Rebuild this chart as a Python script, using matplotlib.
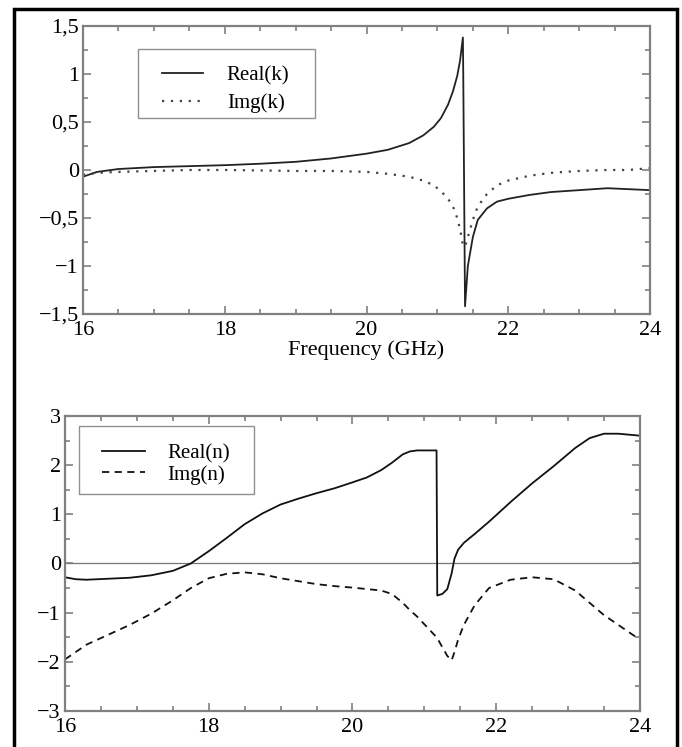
import matplotlib
matplotlib.use("Agg")
import matplotlib.pyplot as plt
from matplotlib.ticker import MultipleLocator, FuncFormatter
from matplotlib.patches import Rectangle
import numpy as np

plt.rcParams['font.family'] = ['Liberation Serif', 'DejaVu Serif']

# k (top panel)
fk = [16.0, 16.2, 16.5, 17.0, 17.5, 18.0, 18.5, 19.0, 19.5, 20.0, 20.3, 20.6,
      20.8, 20.95, 21.05, 21.15, 21.22, 21.28, 21.32, 21.36, 21.365, 21.39, 21.43,
      21.5, 21.57, 21.7, 21.84, 22.0, 22.3, 22.6, 23.0, 23.4, 23.7, 24.0]
real_k = [-0.07, -0.02, 0.01, 0.03, 0.04, 0.05, 0.065, 0.085, 0.12, 0.17, 0.21, 0.28,
          0.36, 0.45, 0.54, 0.68, 0.82, 0.98, 1.14, 1.38, 1.0, -1.42, -1.0,
          -0.7, -0.52, -0.4, -0.33, -0.3, -0.26, -0.23, -0.21, -0.19, -0.2, -0.21]
img_k = [-0.05, -0.03, -0.02, -0.01, 0.0, 0.0, -0.005, -0.01, -0.01, -0.02, -0.04, -0.07,
         -0.11, -0.16, -0.22, -0.3, -0.38, -0.5, -0.62, -0.78, -0.79, -0.8, -0.7,
         -0.52, -0.38, -0.25, -0.16, -0.11, -0.06, -0.03, -0.01, 0.0, 0.0, 0.02]

# n (bottom panel)
fn = [16.0, 16.15, 16.3, 16.6, 16.9, 17.2, 17.5, 17.75, 18.0, 18.25, 18.5, 18.75,
      19.0, 19.25, 19.5, 19.75, 20.0, 20.2, 20.4, 20.55, 20.7, 20.8, 20.9, 21.17,
      21.18, 21.25, 21.32, 21.38, 21.42, 21.47, 21.55, 21.7, 21.9, 22.2, 22.5,
      22.8, 23.1, 23.3, 23.5, 23.7, 24.0]
real_n = [-0.28, -0.32, -0.33, -0.31, -0.29, -0.24, -0.15, 0.0, 0.25, 0.52, 0.8, 1.02,
          1.2, 1.32, 1.43, 1.53, 1.65, 1.75, 1.9, 2.05, 2.22, 2.28, 2.3, 2.3,
          -0.65, -0.62, -0.52, -0.2, 0.1, 0.28, 0.42, 0.6, 0.85, 1.25, 1.63,
          1.98, 2.35, 2.55, 2.64, 2.64, 2.6]
img_n = [-1.95, -1.8, -1.65, -1.45, -1.25, -1.02, -0.75, -0.5, -0.3, -0.21, -0.18, -0.22,
         -0.3, -0.36, -0.42, -0.46, -0.49, -0.52, -0.55, -0.62, -0.8, -0.95, -1.08, -1.5,
         -1.52, -1.7, -1.88, -1.97, -1.8, -1.55, -1.25, -0.85, -0.5, -0.33, -0.28,
         -0.32, -0.55, -0.8, -1.05, -1.25, -1.55]

x_ticks = [16, 18, 20, 22, 24]
k_ticks = [-1.5, -1, -0.5, 0, 0.5, 1, 1.5]
n_ticks = [-3, -2, -1, 0, 1, 2, 3]


def comma(v, pos):
    s = ('%g' % v).replace('.', ',')
    return s.replace('-', '\u2212')


def style(ax):
    for sp in ax.spines.values():
        sp.set_color('#808080')
        sp.set_linewidth(1.6)
    ax.tick_params(which='both', direction='in', top=True, right=True,
                   color='#808080', labelsize=16, width=1.2)
    ax.tick_params(which='major', length=6, pad=5)
    ax.tick_params(which='minor', length=3.5)
    ax.xaxis.set_minor_locator(MultipleLocator(0.5))
    ax.xaxis.set_major_formatter(FuncFormatter(comma))
    ax.yaxis.set_major_formatter(FuncFormatter(comma))
    ax.tick_params(axis='y', pad=3)


def legend_box(ax, x, y, w, h):
    ax.add_patch(Rectangle((x, y), w, h, transform=ax.transAxes, fill=False,
                           edgecolor='#909090', lw=1.0, zorder=4))


fig = plt.figure(figsize=(6.82, 7.47), dpi=100)

ax1 = fig.add_axes([0.1217, 0.5797, 0.8314, 0.3855])
ax1.plot(fk, real_k, color='#222222', lw=1.3, label='Real(k)')
ax1.plot(fk, img_k, color='#444444', lw=1.6, ls=(0, (1, 3)), label='Img(k)')
ax1.set_xlim(16, 24)
ax1.set_ylim(-1.5, 1.5)
ax1.set_xticks(x_ticks)
ax1.set_yticks(k_ticks)
ax1.yaxis.set_minor_locator(MultipleLocator(0.25))
style(ax1)
ax1.set_xlabel('Frequency (GHz)', fontsize=16, labelpad=0)
legend_box(ax1, 0.097, 0.68, 0.312, 0.24)
ax1.legend(loc='upper left', bbox_to_anchor=(0.139, 0.862), fontsize=15,
           frameon=False, handlelength=1.97, handletextpad=1.15, borderpad=0,
           labelspacing=0.4, borderaxespad=0)

ax2 = fig.add_axes([0.0953, 0.0482, 0.843, 0.3949])
ax2.axhline(0, color='#777777', lw=0.9)
ax2.plot(fn, real_n, color='#111111', lw=1.3, label='Real(n)')
ax2.plot(fn, img_n, color='#111111', lw=1.3, ls=(0, (4, 3)), label='Img(n)')
ax2.set_xlim(16, 24)
ax2.set_ylim(-3, 3)
ax2.set_xticks(x_ticks)
ax2.set_yticks(n_ticks)
ax2.yaxis.set_minor_locator(MultipleLocator(0.5))
style(ax2)
legend_box(ax2, 0.0243, 0.734, 0.304, 0.232)
ax2.legend(loc='upper left', bbox_to_anchor=(0.0643, 0.905), fontsize=15,
           frameon=False, handlelength=2.06, handletextpad=1.06, borderpad=0,
           labelspacing=0.06, borderaxespad=0)

# outer black frame (runs off the bottom edge)
fig.add_artist(Rectangle((14 / 682, -0.02), (677 - 14) / 682, 1 - 9 / 747 + 0.02,
                         transform=fig.transFigure, fill=False, edgecolor='black',
                         lw=2.5, clip_on=False))

fig.savefig('out.png', dpi=100)
